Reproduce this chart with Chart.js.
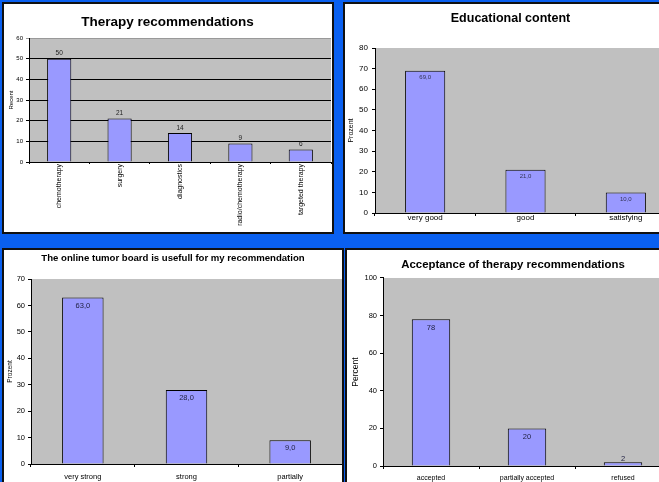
<!DOCTYPE html>
<html>
<head>
<meta charset="utf-8">
<script src="https://cdn.jsdelivr.net/npm/chart.js@4.4.0/dist/chart.umd.min.js"></script>
<style>
html, body { margin:0; padding:0; width:659px; height:482px; overflow:hidden; background:#0a60f0; position:relative; }
.panel { position:absolute; background:#fff; border:2px solid #111; box-sizing:border-box; }
canvas { position:absolute; }
</style>
</head>
<body>
<div class="panel" style="left:2px;top:2px;width:332px;height:232px"></div>
<div class="panel" style="left:343px;top:2px;width:400px;height:232px"></div>
<div class="panel" style="left:2px;top:248px;width:342px;height:300px"></div>
<div class="panel" style="left:345px;top:248px;width:400px;height:300px"></div>
<canvas id="c1" width="328" height="228" style="left:4px;top:4px"></canvas>
<canvas id="c2" width="332" height="228" style="left:345px;top:4px"></canvas>
<canvas id="c3" width="338" height="232" style="left:4px;top:250px"></canvas>
<canvas id="c4" width="332" height="232" style="left:347px;top:250px"></canvas>
<script>
// data
var therapyLabels = ['chemotherapy', 'surgery', 'diagnostics', 'radio/chemotherapy', 'targeted therapy'];
var therapyValues = [50, 21, 14, 9, 6];
var therapyTicks = [0, 10, 20, 30, 40, 50, 60];

var educationLabels = ['very good', 'good', 'satisfying'];
var educationValues = [69, 21, 10];
var educationTicks = [0, 10, 20, 30, 40, 50, 60, 70, 80];

var usefulLabels = ['very strong', 'strong', 'partially'];
var usefulValues = [63, 28, 9];
var usefulTicks = [0, 10, 20, 30, 40, 50, 60, 70];

var acceptLabels = ['accepted', 'partially accepted', 'refused'];
var acceptValues = [78, 20, 2];
var acceptTicks = [0, 20, 40, 60, 80, 100];

var FONT = 'Arial, "Liberation Sans", sans-serif';

// grey plot area like the old excel charts
var plotBg = {
    id: 'plotBg',
    beforeDraw: function(chart){
        var a = chart.chartArea, ctx = chart.ctx;
        ctx.save();
        ctx.fillStyle = '#c0c0c0';
        ctx.fillRect(a.left, a.top, a.right - a.left, a.bottom - a.top);
        ctx.restore();
    }
};

// numbers on the bars
var valueLabels = {
    id: 'valueLabels',
    afterDatasetsDraw: function(chart, args, opts){
        var ctx = chart.ctx;
        var meta = chart.getDatasetMeta(0);
        var data = chart.data.datasets[0].data;
        ctx.save();
        ctx.font = opts.size + 'px ' + FONT;
        ctx.fillStyle = opts.color;
        ctx.textAlign = 'center';
        ctx.textBaseline = 'middle';
        meta.data.forEach(function(bar, i){
            var txt = opts.decimals ? data[i].toFixed(1).replace('.', ',') : String(data[i]);
            var h = bar.base - bar.y;
            var y = (opts.inside && h > 12) ? bar.y + opts.offset : bar.y - opts.above;
            ctx.fillText(txt, bar.x, y);
        });
        ctx.restore();
    }
};

function barChart(id, labels, values, ticks, o){
    return new Chart(document.getElementById(id), {
        type: 'bar',
        data: {
            labels: labels,
            datasets: [{
                data: values,
                backgroundColor: '#9999ff',
                borderColor: '#000',
                borderWidth: 1,
                barPercentage: 0.4,
                categoryPercentage: 1
            }]
        },
        options: {
            responsive: false,
            animation: false,
            devicePixelRatio: 1,
            layout: { padding: { left: o.padLeft || 0, top: 0, right: o.padRight, bottom: 0 } },
            plugins: {
                legend: { display: false },
                tooltip: { enabled: false },
                title: {
                    display: true,
                    text: o.title,
                    color: '#000',
                    font: { family: FONT, size: o.titleSize, weight: 'bold', lineHeight: 1.2 },
                    padding: { top: o.titleTop, bottom: o.titleBottom }
                },
                valueLabels: o.values
            },
            scales: {
                x: {
                    grid: { offset: true, drawOnChartArea: false, color: '#000', tickLength: o.xTick },
                    border: { color: '#000', width: 1 },
                    ticks: {
                        autoSkip: false, maxRotation: o.rot, minRotation: o.rot,
                        padding: o.xPad, color: '#000',
                        font: { family: FONT, size: o.xSize }
                    },
                    afterFit: function(s){ s.height = o.xHeight; }
                },
                y: {
                    min: 0,
                    max: ticks[ticks.length - 1],
                    afterBuildTicks: function(s){ s.ticks = ticks.map(function(v){ return { value: v }; }); },
                    grid: {
                        drawOnChartArea: !!o.gridLines,
                        color: function(c){ return (o.gridLines && c.tick && c.tick.value === ticks[ticks.length - 1]) ? '#999' : '#000'; },
                        tickLength: 3
                    },
                    border: { color: '#000', width: 1 },
                    ticks: { padding: o.yPad, color: '#000', font: { family: FONT, size: o.ySize } },
                    title: {
                        display: true, text: o.yTitle, color: '#000',
                        font: { family: FONT, size: o.yTitleSize, lineHeight: 1.2 },
                        padding: { top: o.yTitlePad, bottom: 0 }
                    },
                    afterFit: function(s){ s.width = o.yWidth; }
                }
            }
        },
        plugins: [plotBg, valueLabels]
    });
}

barChart('c1', therapyLabels, therapyValues, therapyTicks, {
    title: 'Therapy recommendations', titleSize: 13.5, titleTop: 10.5, titleBottom: 7.3,
    padRight: 1, xHeight: 70, xTick: 2, xPad: 0, rot: 90, xSize: 7,
    yWidth: 25, yPad: 3, ySize: 6, yTitle: 'Recent', yTitleSize: 6, yTitlePad: 3.4,
    gridLines: true,
    values: { size: 6.5, color: '#222', inside: false, above: 5, decimals: false }
});

barChart('c2', educationLabels, educationValues, educationTicks, {
    title: 'Educational content', titleSize: 12.5, titleTop: 6.8, titleBottom: 22.2,
    padRight: 1, xHeight: 19, xTick: 3, xPad: -3, rot: 0, xSize: 8,
    yWidth: 30, yPad: 4, ySize: 8, yTitle: 'Prozent', yTitleSize: 7, yTitlePad: 1.8,
    values: { size: 6, color: '#333355', inside: true, offset: 7, above: 4, decimals: true }
});

barChart('c3', usefulLabels, usefulValues, usefulTicks, {
    title: 'The online tumor board is usefull for my recommendation', titleSize: 9.6, titleTop: 2.6, titleBottom: 14.9,
    padRight: 0, xHeight: 18, xTick: 3, xPad: 5.5, rot: 0, xSize: 7.5,
    yWidth: 27, yPad: 3, ySize: 7.5, yTitle: 'Prozent', yTitleSize: 6.5, yTitlePad: 2.1,
    values: { size: 7.5, color: '#222244', inside: true, offset: 8, above: 4, decimals: true }
});

barChart('c4', acceptLabels, acceptValues, acceptTicks, {
    title: 'Acceptance of therapy recommendations', titleSize: 11.4, titleTop: 8.2, titleBottom: 6.1,
    padLeft: 8, padRight: 8, xHeight: 16, xTick: 3, xPad: 4.8, rot: 0, xSize: 7,
    yWidth: 28, yPad: 3, ySize: 7.5, yTitle: 'Percent', yTitleSize: 8.5, yTitlePad: -4.1,
    values: { size: 7.5, color: '#222244', inside: true, offset: 9, above: 3, decimals: false }
});
</script>
</body>
</html>
